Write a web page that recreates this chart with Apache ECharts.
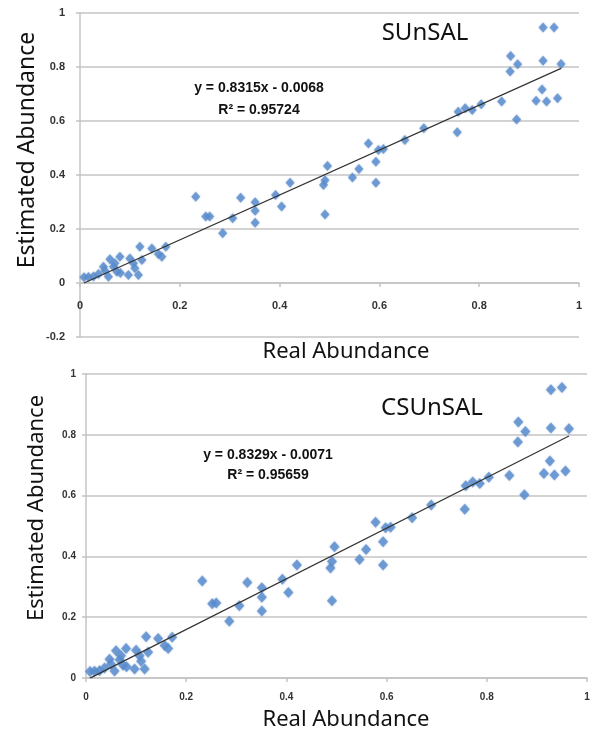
<!DOCTYPE html>
<html>
<head>
<meta charset="utf-8">
<script src="https://cdn.jsdelivr.net/npm/echarts@6/dist/echarts.min.js"></script>
<style>
  html, body { margin: 0; padding: 0; background: #fff; }
  #chart { width: 592px; height: 735px; }
</style>
</head>
<body>
<div id="chart"></div>
<script>
// SUnSAL: real vs estimated abundance
const sunsalX = [0.008, 0.017, 0.027, 0.037, 0.047, 0.050, 0.057, 0.060, 0.067, 0.070, 0.074, 0.080,
  0.081, 0.097, 0.100, 0.107, 0.110, 0.117, 0.120, 0.124, 0.144, 0.157, 0.164, 0.172,
  0.232, 0.252, 0.260, 0.286, 0.306, 0.322, 0.351, 0.351, 0.351, 0.392, 0.404, 0.421,
  0.488, 0.491, 0.496, 0.491, 0.546, 0.559, 0.578, 0.593, 0.593, 0.598, 0.608, 0.651,
  0.689, 0.756, 0.758, 0.772, 0.786, 0.804, 0.845, 0.863, 0.862, 0.877, 0.875, 0.914,
  0.926, 0.928, 0.928, 0.935, 0.950, 0.957, 0.964];
const sunsalY = [0.021, 0.022, 0.024, 0.033, 0.060, 0.045, 0.023, 0.088, 0.060, 0.073, 0.042, 0.097,
  0.037, 0.030, 0.091, 0.073, 0.055, 0.030, 0.134, 0.085, 0.128, 0.107, 0.097, 0.134,
  0.319, 0.246, 0.246, 0.184, 0.240, 0.316, 0.299, 0.268, 0.223, 0.326, 0.283, 0.371,
  0.363, 0.381, 0.433, 0.254, 0.391, 0.422, 0.517, 0.449, 0.371, 0.493, 0.496, 0.530,
  0.573, 0.558, 0.634, 0.647, 0.641, 0.662, 0.672, 0.841, 0.783, 0.810, 0.606, 0.675,
  0.717, 0.823, 0.946, 0.672, 0.946, 0.684, 0.811];

// CSUnSAL
const csunsalX = sunsalX;
const csunsalY = [0.021, 0.022, 0.024, 0.033, 0.062, 0.045, 0.023, 0.090, 0.060, 0.073, 0.042, 0.097,
  0.037, 0.030, 0.091, 0.073, 0.055, 0.030, 0.136, 0.085, 0.130, 0.107, 0.097, 0.134,
  0.319, 0.244, 0.247, 0.187, 0.238, 0.314, 0.297, 0.266, 0.220, 0.325, 0.281, 0.372,
  0.362, 0.383, 0.432, 0.254, 0.390, 0.423, 0.512, 0.448, 0.372, 0.494, 0.496, 0.527,
  0.569, 0.555, 0.632, 0.645, 0.640, 0.660, 0.666, 0.842, 0.776, 0.811, 0.603, 0.673,
  0.714, 0.822, 0.948, 0.668, 0.956, 0.681, 0.820];

// linear trend lines
const sunsalFit = { slope: 0.8315, icpt: -0.0068, r2: '0.95724' };
const csunsalFit = { slope: 0.8329, icpt: -0.0071, r2: '0.95659' };

const toPairs = (xs, ys) => xs.map((x, i) => [x, ys[i]]);
const fitLine = (xs, fit) => {
  const lo = Math.min(...xs), hi = Math.max(...xs);
  return [[lo, fit.slope * lo + fit.icpt], [hi, fit.slope * hi + fit.icpt]];
};
const eqText = fit => 'y = ' + fit.slope.toFixed(4) + 'x - ' + Math.abs(fit.icpt).toFixed(4);

const gridCol = '#c4c4c4';
const blue = '#5a8ed0';

const myChart = echarts.init(document.getElementById('chart'));

// top chart: x axis crosses at y = 0, i.e. 54px above the -0.2 bottom edge
const makeX = (idx, labelSize, margin, offset) => ({
  type: 'value', gridIndex: idx, min: 0, max: 1, interval: 0.2,
  position: 'bottom', offset: offset,
  axisLine: { show: true, onZero: false, lineStyle: { color: gridCol, width: 1.5 } },
  axisTick: { show: true, length: 4, lineStyle: { color: gridCol, width: 1.5 } },
  axisLabel: { fontFamily: 'Liberation Sans', fontWeight: 'bold', fontSize: labelSize, color: '#333', margin: margin },
  splitLine: { show: false }
});
const makeY = (idx, min, labelSize, margin) => ({
  type: 'value', gridIndex: idx, min: min, max: 1, interval: 0.2,
  axisLine: { show: true, onZero: false, lineStyle: { color: gridCol, width: 1.5 } },
  axisTick: { show: true, length: 4, lineStyle: { color: gridCol, width: 1.5 } },
  axisLabel: { fontFamily: 'Liberation Sans', fontWeight: 'bold', fontSize: labelSize, color: '#333', margin: margin },
  splitLine: { show: true, lineStyle: { color: gridCol, width: 1.5 } }
});

const label = (text, x, y, font, rot) => ({
  type: 'text', x: x, y: y, rotation: rot || 0, z: 100,
  style: { text: text, font: font, fill: '#111', align: 'center', verticalAlign: 'middle' }
});

const eqFont = 'bold 14px "Liberation Sans", sans-serif';

const option = {
  backgroundColor: '#fff',
  animation: false,
  grid: [
    { left: 80, top: 13, width: 499, height: 324, outerBoundsMode: 'none' },
    { left: 86, top: 374, width: 501, height: 304, outerBoundsMode: 'none' }
  ],
  xAxis: [makeX(0, 11, 17, -54), makeX(1, 10, 14, 0)],
  yAxis: [makeY(0, -0.2, 11, 15), makeY(1, 0, 10, 10)],
  series: [
    {
      name: 'SUnSAL', type: 'scatter', xAxisIndex: 0, yAxisIndex: 0,
      symbol: 'diamond', symbolSize: [9, 10],
      itemStyle: { color: blue, shadowBlur: 2, shadowColor: 'rgba(60,100,170,0.5)' },
      data: toPairs(sunsalX, sunsalY)
    },
    {
      name: 'SUnSAL fit', type: 'line', xAxisIndex: 0, yAxisIndex: 0,
      symbol: 'none', silent: true, z: 3,
      lineStyle: { color: '#333', width: 1.2 },
      data: fitLine(sunsalX, sunsalFit)
    },
    {
      name: 'CSUnSAL', type: 'scatter', xAxisIndex: 1, yAxisIndex: 1,
      symbol: 'diamond', symbolSize: [10, 11],
      itemStyle: { color: blue, shadowBlur: 2, shadowColor: 'rgba(60,100,170,0.5)' },
      data: toPairs(csunsalX, csunsalY)
    },
    {
      name: 'CSUnSAL fit', type: 'line', xAxisIndex: 1, yAxisIndex: 1,
      symbol: 'none', silent: true, z: 3,
      lineStyle: { color: '#333', width: 1.2 },
      data: fitLine(csunsalX, csunsalFit)
    }
  ],
  graphic: [
    label('SUnSAL', 425, 33, '24px "Noto Sans", sans-serif'),
    label(eqText(sunsalFit), 259, 88, eqFont),
    label('R² = ' + sunsalFit.r2, 259, 110, eqFont),
    label('Estimated Abundance', 27, 150, '23px "Noto Sans", sans-serif', Math.PI / 2),
    label('Real Abundance', 346, 352, '22px "Noto Sans", sans-serif'),

    label('CSUnSAL', 432, 408, '24px "Noto Sans", sans-serif'),
    label(eqText(csunsalFit), 268, 455, eqFont),
    label('R² = ' + csunsalFit.r2, 268, 475, eqFont),
    label('Estimated Abundance', 37, 508, '22px "Noto Sans", sans-serif', Math.PI / 2),
    label('Real Abundance', 346, 720, '22px "Noto Sans", sans-serif')
  ]
};

myChart.setOption(option);
</script>
</body>
</html>
